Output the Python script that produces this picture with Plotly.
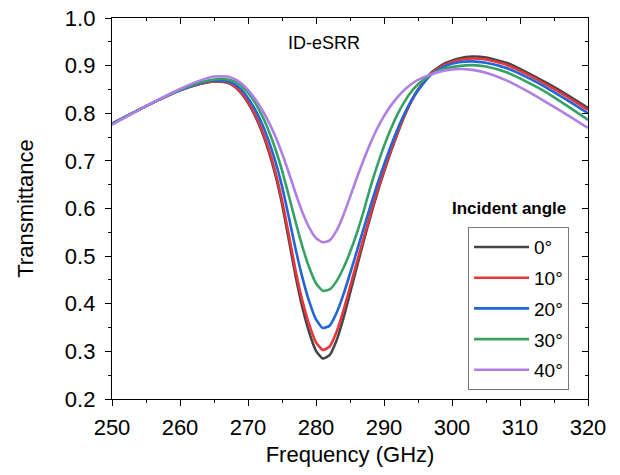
import plotly.graph_objects as go

freq = [250, 255, 260, 263, 265, 267, 268, 269, 270, 271, 272, 273, 274, 275, 276,
        277, 278, 279, 280, 281, 282, 283, 284, 285, 286, 287, 288, 289, 290, 291,
        292, 293, 294, 295, 297, 299, 301, 303, 305, 308, 311, 314, 317, 320]

t_0 = [.778, .815, .848, .862, .867, .864, .856, .842, .822, .796, .763, .722, .672, .610, .535,
       .458, .392, .340, .301, .285, .292, .322, .368, .422, .477, .531, .583, .632, .677, .719,
       .758, .794, .825, .850, .886, .905, .915, .919, .917, .906, .886, .863, .838, .811]
t_10 = [.778, .815, .848, .862, .867, .865, .857, .844, .824, .799, .767, .727, .678, .618, .545,
        .470, .406, .356, .319, .303, .310, .340, .384, .435, .487, .538, .588, .636, .680, .721,
        .760, .795, .825, .849, .884, .902, .912, .915, .913, .902, .882, .859, .834, .807]
t_20 = [.778, .815, .848, .863, .869, .867, .861, .850, .832, .809, .780, .744, .700, .647, .582,
        .515, .455, .405, .367, .349, .354, .380, .418, .463, .510, .558, .605, .650, .692, .731,
        .767, .799, .826, .848, .882, .899, .907, .909, .906, .895, .876, .853, .827, .800]
t_30 = [.777, .815, .849, .865, .871, .871, .867, .858, .843, .823, .797, .765, .726, .680, .627,
        .572, .520, .476, .443, .427, .430, .447, .474, .508, .548, .594, .645, .690, .731, .767,
        .798, .824, .845, .861, .882, .894, .899, .901, .898, .886, .866, .843, .815, .786]
t_40 = [.776, .815, .851, .869, .877, .877, .872, .863, .849, .831, .809, .783, .752, .716, .675,
        .632, .592, .560, .538, .529, .533, .553, .585, .624, .664, .702, .737, .768, .794, .816,
        .834, .849, .861, .870, .882, .890, .893, .891, .885, .869, .847, .822, .796, .769]

series_names = ["0°", "10°", "20°", "30°", "40°"]
series_vals = [t_0, t_10, t_20, t_30, t_40]
colors = ["#454545", "#e8363c", "#2166d6", "#37a163", "#b07fe4"]

x_ticks = [250, 260, 270, 280, 290, 300, 310, 320]
y_ticks = [0.2, 0.3, 0.4, 0.5, 0.6, 0.7, 0.8, 0.9, 1.0]

FONT = "Liberation Sans, Arial, sans-serif"

fig = go.Figure()
for i, (nm, vals, c) in enumerate(zip(series_names, series_vals, colors)):
    fig.add_trace(go.Scatter(
        x=freq, y=vals, mode="lines", name=nm,
        line=dict(color=c, width=2.6, shape="spline", smoothing=0.5),
        legendgroup=f"g{i}",
    ))

# helper trace for the mirrored (top/right) axes
fig.add_trace(go.Scatter(x=freq, y=t_0, xaxis="x2", yaxis="y2", mode="lines",
                         line=dict(width=0), opacity=0, showlegend=False,
                         hoverinfo="skip"))

axis_common = dict(showline=True, linecolor="black", linewidth=1.4,
                   showgrid=False, zeroline=False, ticks="outside",
                   tickcolor="black", tickwidth=1.2, ticklen=6,
                   tickfont=dict(family=FONT, size=22, color="black"))

fig.update_layout(
    width=620, height=475,
    margin=dict(l=112, r=32, t=18, b=76, autoexpand=False),
    plot_bgcolor="white", paper_bgcolor="white",
    xaxis=dict(range=[250, 320], tickvals=x_ticks, ticklabelstandoff=2,
               minor=dict(dtick=5, ticklen=3, tickcolor="black", ticks="outside"),
               title=dict(text="Frequency (GHz)", font=dict(family=FONT, size=22, color="black"),
                          standoff=8),
               **axis_common),
    yaxis=dict(range=[0.2, 1.0], tickvals=y_ticks, tickformat=".1f", ticklabelstandoff=5,
               minor=dict(dtick=0.05, ticklen=3, tickcolor="black", ticks="outside"),
               title=dict(text="Transmittance", font=dict(family=FONT, size=22, color="black"),
                          standoff=25),
               **axis_common),
    xaxis2=dict(range=[250, 320], overlaying="x", side="top", anchor="y",
                tickvals=x_ticks, showticklabels=False, showline=True, linecolor="black",
                linewidth=1.4, showgrid=False, zeroline=False, ticks="inside",
                tickcolor="black", tickwidth=1.2, ticklen=6,
                minor=dict(dtick=5, ticklen=3, tickcolor="black", ticks="inside")),
    yaxis2=dict(range=[0.2, 1.0], overlaying="y", side="right", anchor="x",
                tickvals=y_ticks, showticklabels=False, showline=True, linecolor="black",
                linewidth=1.4, showgrid=False, zeroline=False, ticks="inside",
                tickcolor="black", tickwidth=1.2, ticklen=6,
                minor=dict(dtick=0.05, ticklen=3, tickcolor="black", ticks="inside")),
    legend=dict(x=0.748, y=0.451, xanchor="left", yanchor="top",
                bordercolor="#777777", borderwidth=1, bgcolor="white",
                font=dict(family=FONT, size=19, color="black"),
                itemwidth=55, tracegroupgap=3),
    showlegend=True,
    annotations=[
        dict(text="ID-eSRR", xref="paper", yref="paper", x=0.445, y=0.934,
             xanchor="center", yanchor="middle",
             showarrow=False, font=dict(family=FONT, size=18, color="black")),
        dict(text="<b>Incident angle</b>", xref="paper", yref="paper", x=0.834, y=0.501,
             xanchor="center", yanchor="middle",
             showarrow=False, font=dict(family=FONT, size=17, color="black")),
    ],
)

fig.write_html("out.html")
